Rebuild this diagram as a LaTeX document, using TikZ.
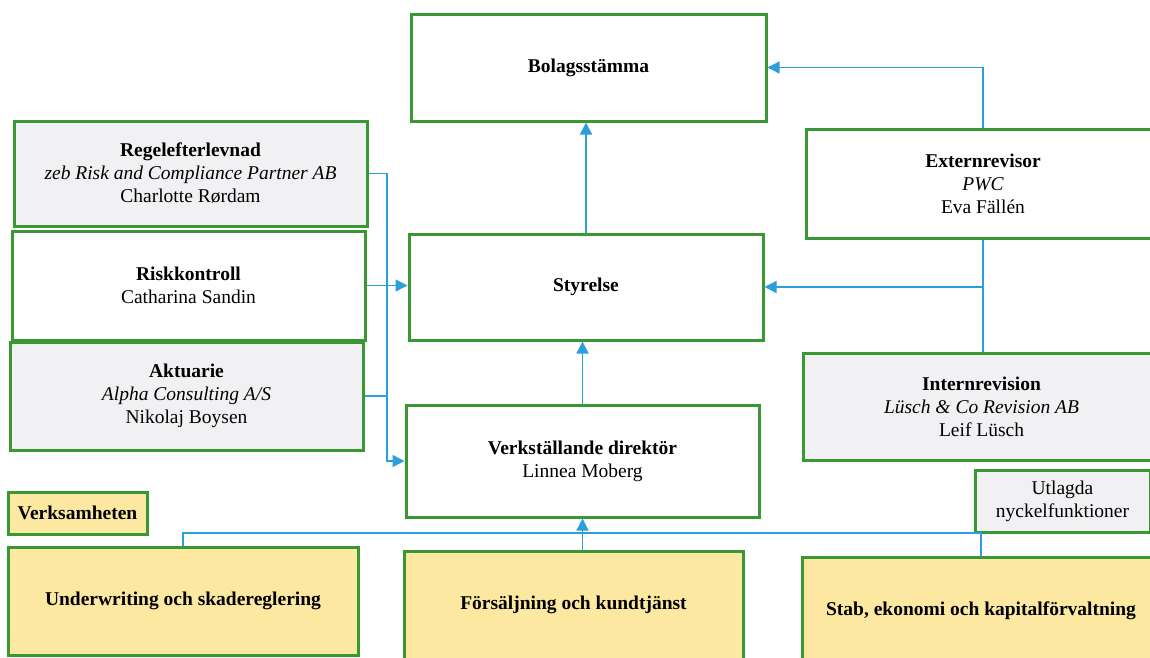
\documentclass[tikz,border=0pt]{standalone}
\usepackage{fontspec}
\setmainfont{Liberation Serif}
\usetikzlibrary{arrows.meta,calc}
\definecolor{boxgreen}{RGB}{58,152,52}
\definecolor{conblue}{RGB}{43,158,220}
\definecolor{lightgray}{RGB}{241,241,244}
\definecolor{paleyellow}{RGB}{252,232,160}
\tikzset{
  box/.style={draw=boxgreen, line width=3pt, fill=white, align=center, inner sep=2pt,
    font=\fontsize{19.5}{23}\selectfont},
  greybox/.style={box, fill=lightgray},
  yellowbox/.style={box, fill=paleyellow},
  wire/.style={draw=conblue, line width=1.4pt},
  conn/.style={wire, -{Triangle[length=12pt,width=12pt]}},
}
\begin{document}
\begin{tikzpicture}[x=1pt,y=-1pt]
\useasboundingbox (0,0) rectangle (1150,657);
\clip (0,0) rectangle (1150,657);
\fill[white] (0,0) rectangle (1150,657);
% nodes
\node[box, minimum width=355pt, minimum height=107pt] (bol) at (588.5,67.5) {\textbf{Bolagsstämma}};
\node[greybox, minimum width=353pt, minimum height=105pt] (reg) at (190.5,173.5)
  {\textbf{Regelefterlevnad}\\\textit{zeb Risk and Compliance Partner AB}\\Charlotte Rørdam};
\node[box, minimum width=353pt, minimum height=109pt] (risk) at (188.5,285.5)
  {\textbf{Riskkontroll}\\Catharina Sandin};
\node[greybox, minimum width=353pt, minimum height=108pt] (akt) at (186.5,396)
  {\textbf{Aktuarie}\\\textit{Alpha Consulting A/S}\\Nikolaj Boysen};
\node[box, minimum width=354pt, minimum height=106pt] (sty) at (586,287) {\textbf{Styrelse}};
\node[box, minimum width=353pt, minimum height=112pt] (vd) at (582.5,461)
  {\textbf{Verkställande direktör}\\Linnea Moberg};
\node[box, minimum width=354pt, minimum height=109pt] (ext) at (983,183.5)
  {\textbf{Externrevisor}\\\textit{PWC}\\Eva Fällén};
\node[greybox, minimum width=357pt, minimum height=107pt] (int) at (981.5,406.5)
  {\textbf{Internrevision}\\\textit{Lüsch \& Co Revision AB}\\Leif Lüsch};
\node[greybox, minimum width=175pt, minimum height=62pt] (utl) at (1062.5,501)
  {Utlagda\\nyckelfunktioner};
\node[yellowbox, minimum width=139pt, minimum height=42pt] (verk) at (77.5,513) {\textbf{Verksamheten}};
\node[yellowbox, minimum width=350pt, minimum height=108pt] (uw) at (183,601)
  {\textbf{Underwriting och skadereglering}};
\node[yellowbox, minimum width=339pt, minimum height=108pt] (fors) at (573.5,605)
  {\textbf{Försäljning och kundtjänst}};
\node[yellowbox, minimum width=358pt, minimum height=108pt] (stab) at (981,611)
  {\textbf{Stab, ekonomi och kapitalförvaltning}};
% bus coordinates
\coordinate (lbus) at (387,0);
\coordinate (bbus) at (0,533);
% connectors
\draw[conn] (sty.north) -- (sty.north |- bol.south);
\draw[conn] (vd.north) -- (vd.north |- sty.south);
\draw[conn] (ext.north) |- (bol.east);
\draw[wire] (ext.south) -- (ext.south |- int.north);
\draw[conn] (ext.south |- sty.east) -- (sty.east);
\draw[conn] (reg.east) -| (lbus |- vd.west) -- (vd.west);
\draw[conn] (risk.east) -- (risk.east -| sty.west);
\draw[wire] (akt.east) -- (lbus |- akt.east);
\draw[wire] (uw.north) -- (uw.north |- bbus) -- (stab.north |- bbus) -- (stab.north);
\draw[conn] (fors.north -| vd.south) -- (vd.south);
\end{tikzpicture}
\end{document}
